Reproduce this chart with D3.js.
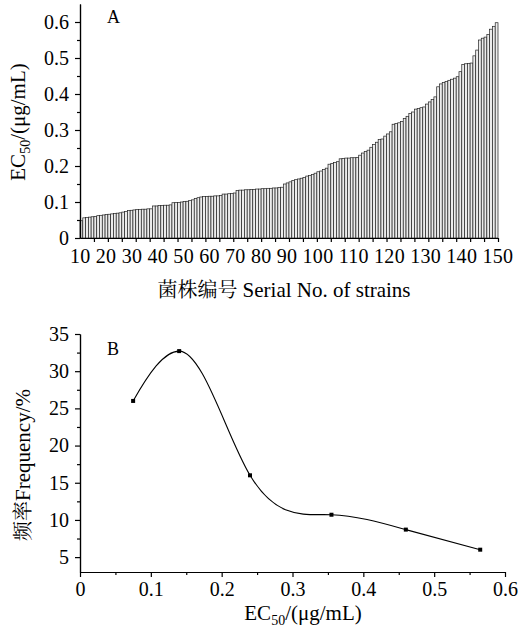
<!DOCTYPE html>
<html>
<head>
<meta charset="utf-8">
<script src="https://cdn.jsdelivr.net/npm/d3@7"></script>
<style>
  body { margin: 0; background: #fff; }
  svg text { font-family: "Liberation Serif", "Times New Roman", serif; fill: #000; }
  .cjk { font-family: "Noto Serif CJK SC", "Noto Sans CJK SC", sans-serif; }
</style>
</head>
<body>
<svg id="chart" width="518" height="630"></svg>
<script>
"use strict";

// ── Data ──────────────────────────────────────────────────────────────────────
// Panel A: EC50 of each strain, sorted ascending
const ec50 = [
  0.048,
  0.056, 0.057, 0.058, 0.059, 0.060, 0.062,
  0.063, 0.064, 0.065, 0.066, 0.067, 0.068, 0.069,
  0.070, 0.072, 0.074, 0.076, 0.077,
  0.078, 0.079, 0.079, 0.080, 0.080, 0.081, 0.081,
  0.089, 0.089, 0.090, 0.090, 0.091, 0.091, 0.092,
  0.098, 0.099, 0.099, 0.100, 0.101, 0.102,
  0.104, 0.106, 0.110, 0.112,
  0.114, 0.115, 0.115, 0.116, 0.116, 0.117, 0.117, 0.118,
  0.122, 0.122, 0.123, 0.124, 0.125,
  0.132, 0.133, 0.133, 0.134, 0.134, 0.135, 0.135, 0.136, 0.136, 0.137,
  0.137, 0.138, 0.138, 0.139, 0.139, 0.140, 0.141,
  0.150, 0.153, 0.156, 0.160,
  0.162, 0.164, 0.166, 0.168, 0.172,
  0.174, 0.176, 0.180, 0.184,
  0.186, 0.190, 0.194,
  0.205, 0.207, 0.210, 0.212,
  0.220, 0.221, 0.222, 0.222, 0.223, 0.223, 0.224,
  0.230, 0.236, 0.240,
  0.244, 0.252,
  0.260, 0.266, 0.274, 0.275,
  0.283, 0.289,
  0.295,
  0.316, 0.318, 0.320, 0.324,
  0.332, 0.338,
  0.346, 0.350,
  0.358, 0.360, 0.362, 0.364,
  0.372, 0.378, 0.385,
  0.392,
  0.420, 0.428,
  0.432, 0.435, 0.438, 0.441, 0.444, 0.448,
  0.462,
  0.482, 0.484, 0.485, 0.486,
  0.506,
  0.522,
  0.550,
  0.555, 0.558,
  0.565,
  0.580,
  0.588,
  0.598
];
const strainLabels = [10, 20, 30, 40, 50, 60, 70, 80, 90, 100, 110, 120, 130, 140, 150];
const ec50Ticks    = [0, 0.1, 0.2, 0.3, 0.4, 0.5, 0.6];

// Panel B: frequency distribution of EC50
const freqX      = [0.075, 0.14, 0.24, 0.355, 0.46, 0.565];
const freqY      = [26.0, 32.7, 16.0, 10.7, 8.7, 6.0];
const freqXTicks = [0, 0.1, 0.2, 0.3, 0.4, 0.5, 0.6];
const freqYTicks = [5, 10, 15, 20, 25, 30, 35];

// ── SVG ───────────────────────────────────────────────────────────────────────
const svg   = d3.select("#chart");
const TICK  = 20;   // tick label size
const TITLE = 21;   // axis title size
const SUB   = 14;   // subscript size

function styleAxis(g) {
  g.attr("font-family", null).attr("font-size", TICK);
  g.selectAll("path, line").attr("stroke", "#000").attr("stroke-width", 1.2);
}

function ec50Title(sel) {
  sel.append("tspan").text("EC");
  sel.append("tspan").attr("font-size", SUB).attr("dy", 5).text("50");
  sel.append("tspan").attr("dy", -5).text("/(μg/mL)");
}

// Natural cubic spline, but flat at interior peaks (like the plotted curve)
function peakSpline(context) {
  let xs = [], ys = [];
  return {
    areaStart() {}, areaEnd() {},
    lineStart() { xs = []; ys = []; },
    point(x, y) { xs.push(+x); ys.push(+y); },
    lineEnd() {
      const n = xs.length;
      if (n < 3) return;
      const h = d3.range(n - 1).map((i) => xs[i + 1] - xs[i]);
      const s = h.map((hi, i) => (ys[i + 1] - ys[i]) / hi);

      // second derivatives (Thomas algorithm), M[0] = M[n-1] = 0
      const a = [], b = [], c = [], r = [];
      for (let i = 1; i < n - 1; i++) {
        a.push(h[i - 1]); b.push(2 * (h[i - 1] + h[i])); c.push(h[i]);
        r.push(6 * (s[i] - s[i - 1]));
      }
      const m = b.length;
      for (let i = 1; i < m; i++) {
        const w = a[i] / b[i - 1];
        b[i] -= w * c[i - 1];
        r[i] -= w * r[i - 1];
      }
      const M = new Array(n).fill(0);
      M[m] = r[m - 1] / b[m - 1];
      for (let i = m - 2; i >= 0; i--) M[i + 1] = (r[i] - c[i] * M[i + 2]) / b[i];

      const t = xs.map((_, i) => i < n - 1
        ? s[i] - h[i] * (2 * M[i] + M[i + 1]) / 6
        : s[n - 2] + h[n - 2] * (M[n - 2] + 2 * M[n - 1]) / 6);
      for (let i = 1; i < n - 1; i++) if (s[i - 1] * s[i] < 0) t[i] = 0;

      context.moveTo(xs[0], ys[0]);
      for (let i = 0; i < n - 1; i++) {
        const d = h[i] / 3;
        context.bezierCurveTo(xs[i] + d, ys[i] + d * t[i],
                              xs[i + 1] - d, ys[i + 1] - d * t[i + 1],
                              xs[i + 1], ys[i + 1]);
      }
    }
  };
}

// ── Panel A ───────────────────────────────────────────────────────────────────
const A = { left: 80, right: 498, top: 4, bottom: 238 };

const xA = d3.scaleBand()
  .domain(d3.range(ec50.length))
  .range([A.left, A.right])
  .paddingInner(0);
const xAtick = d3.scaleLinear().domain([0, 150]).range([A.left, A.right]);
const yA = d3.scaleLinear().domain([0, 0.65]).range([A.bottom, A.top]);

svg.append("g").selectAll("rect")
  .data(ec50)
  .join("rect")
  .attr("x", (d, i) => xA(i))
  .attr("y", (d) => yA(d))
  .attr("width", xA.bandwidth())
  .attr("height", (d) => yA(0) - yA(d))
  .attr("fill", "#ececec")
  .attr("stroke", "#222")
  .attr("stroke-width", 0.7);

// y axis: minor then major ticks
svg.append("g")
  .attr("transform", `translate(${A.left},0)`)
  .call(d3.axisLeft(yA).tickValues(d3.range(0.05, 0.65, 0.1)).tickSize(3).tickSizeOuter(0).tickFormat(""))
  .call(styleAxis);
svg.append("g")
  .attr("transform", `translate(${A.left},0)`)
  .call(d3.axisLeft(yA).tickValues(ec50Ticks).tickSize(5).tickSizeOuter(0).tickPadding(6)
    .tickFormat((d) => d === 0 ? "0" : d.toFixed(1)))
  .call(styleAxis);

// x axis (ticks every 5 strains)
svg.append("g")
  .attr("transform", `translate(0,${A.bottom})`)
  .call(d3.axisBottom(xAtick).tickValues(d3.range(5, 151, 5)).tickSize(4).tickSizeOuter(0).tickFormat(""))
  .call(styleAxis);

// strain number labels, typed as one run of text under the axis
svg.append("text")
  .attr("x", 70)
  .attr("y", 263)
  .attr("font-size", TICK)
  .attr("textLength", 443)
  .attr("lengthAdjust", "spacing")
  .text(strainLabels.join(" "));

// axis titles
svg.append("text")
  .attr("transform", "translate(25,122) rotate(-90)")
  .attr("text-anchor", "middle")
  .attr("font-size", TITLE)
  .call(ec50Title);

const xTitleA = svg.append("text")
  .attr("x", 284)
  .attr("y", 297)
  .attr("text-anchor", "middle")
  .attr("font-size", TITLE);
xTitleA.append("tspan").attr("class", "cjk").attr("font-size", 20).text("菌株编号 ");
xTitleA.append("tspan").text("Serial No. of strains");

svg.append("text")
  .attr("x", 107).attr("y", 23)
  .attr("font-size", 18)
  .text("A");

// ── Panel B ───────────────────────────────────────────────────────────────────
const B = { left: 80, right: 505, top: 334, bottom: 572 };

const xB = d3.scaleLinear().domain([0, 0.6]).range([B.left, B.right]);
const yB = d3.scaleLinear().domain([3, 35]).range([B.bottom, B.top]);

svg.append("g")
  .attr("transform", `translate(${B.left},0)`)
  .call(d3.axisLeft(yB).tickValues(d3.range(7.5, 35, 5)).tickSize(3).tickSizeOuter(0).tickFormat(""))
  .call(styleAxis);
svg.append("g")
  .attr("transform", `translate(${B.left},0)`)
  .call(d3.axisLeft(yB).tickValues(freqYTicks).tickSize(5).tickSizeOuter(0).tickPadding(6)
    .tickFormat((d) => String(d)))
  .call(styleAxis);

svg.append("g")
  .attr("transform", `translate(0,${B.bottom})`)
  .call(d3.axisBottom(xB).tickValues(d3.range(0.05, 0.6, 0.1)).tickSize(3).tickSizeOuter(0).tickFormat(""))
  .call(styleAxis);
svg.append("g")
  .attr("transform", `translate(0,${B.bottom})`)
  .call(d3.axisBottom(xB).tickValues(freqXTicks).tickSize(5).tickSizeOuter(0).tickPadding(5)
    .tickFormat((d) => d === 0 ? "0" : d.toFixed(1)))
  .call(styleAxis);

const pts = freqX.map((x, i) => [x, freqY[i]]);

svg.append("path")
  .datum(pts)
  .attr("fill", "none")
  .attr("stroke", "#000")
  .attr("stroke-width", 1.1)
  .attr("d", d3.line().x((d) => xB(d[0])).y((d) => yB(d[1])).curve(peakSpline));

svg.append("g").selectAll("rect")
  .data(pts)
  .join("rect")
  .attr("x", (d) => xB(d[0]) - 2)
  .attr("y", (d) => yB(d[1]) - 2)
  .attr("width", 4)
  .attr("height", 4)
  .attr("fill", "#000");

const yTitleB = svg.append("text")
  .attr("transform", "translate(30,465) rotate(-90)")
  .attr("text-anchor", "middle")
  .attr("font-size", TITLE);
yTitleB.append("tspan").attr("class", "cjk").attr("font-size", 20).text("频率");
yTitleB.append("tspan").text("Frequency/%");

svg.append("text")
  .attr("x", 303)
  .attr("y", 620)
  .attr("text-anchor", "middle")
  .attr("font-size", TITLE)
  .call(ec50Title);

svg.append("text")
  .attr("x", 107).attr("y", 355)
  .attr("font-size", 18)
  .text("B");
</script>
</body>
</html>
